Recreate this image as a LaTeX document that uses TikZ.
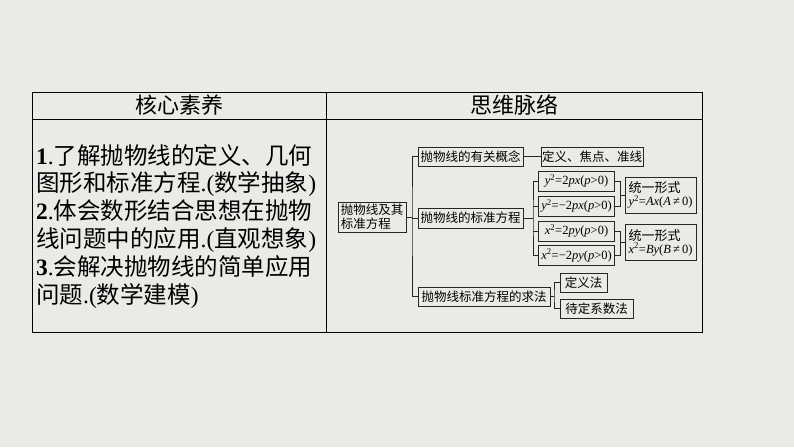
\documentclass[tikz,border=0pt]{standalone}
\usepackage{fontspec}
\setmainfont{Noto Sans CJK SC}
\newfontfamily\tnr{Liberation Serif}
\newcommand{\vi}[1]{\textit{#1}}
\newcommand{\sq}{\textsuperscript{2}}
\definecolor{bgc}{RGB}{234,234,231}
\begin{document}
\begin{tikzpicture}[x=1pt,y=-1pt,
  box/.style={draw=black!85,line width=0.9pt,inner sep=0pt,align=center,font=\fontsize{12.5}{14}\selectfont},
  eq/.style={font=\tnr\fontsize{12.5}{14}\selectfont},
  conn/.style={draw=black!85,line width=0.9pt},
  tbl/.style={draw=black,line width=0.8pt}]
\fill[bgc] (0,0) rectangle (794,447);
\useasboundingbox (0,0) rectangle (794,447);
% table
\draw[tbl] (32,92) rectangle (702,332);
\draw[tbl] (32,119) -- (702,119);
\draw[tbl] (326,92) -- (326,332);
\node[font=\fontsize{22}{24}\selectfont] (h1) at (179,105.5) {核心素养};
\node[font=\fontsize{22}{24}\selectfont] (h2) at (514,105.5) {思维脉络};
\node[anchor=north west,align=left,inner sep=0pt,font=\fontsize{23.5}{27.8}\selectfont] (txt) at (36,144) {%
{\tnr\bfseries 1}{\tnr.}了解抛物线的定义、几何\\
图形和标准方程{\tnr.(}数学抽象{\tnr)}\\
{\tnr\bfseries 2}{\tnr.}体会数形结合思想在抛物\\
线问题中的应用{\tnr.(}直观想象{\tnr)}\\
{\tnr\bfseries 3}{\tnr.}会解决抛物线的简单应用\\
问题{\tnr.(}数学建模{\tnr)}};
% tree
\node[box,minimum width=68pt,minimum height=30pt,align=left] (root) at (372,217) {抛物线及其\\标准方程};
\node[box,minimum width=105pt,minimum height=19pt] (A) at (470.5,156.5) {抛物线的有关概念};
\node[box,minimum width=105pt,minimum height=20pt] (B) at (470.5,218) {抛物线的标准方程};
\node[box,minimum width=132pt,minimum height=19pt] (C) at (484,296.5) {抛物线标准方程的求法};
\node[box,minimum width=102pt,minimum height=19pt] (D) at (592,156.5) {定义、焦点、准线};
\node[box,eq,minimum width=76pt,minimum height=20pt] (E1) at (576.5,181) {\vi{y}\sq=2\vi{px}(\vi{p}>0)};
\node[box,eq,minimum width=76pt,minimum height=20pt] (E2) at (576.5,206) {\vi{y}\sq=−2\vi{px}(\vi{p}>0)};
\node[box,eq,minimum width=76pt,minimum height=20pt] (E3) at (576.5,231) {\vi{x}\sq=2\vi{py}(\vi{p}>0)};
\node[box,eq,minimum width=76pt,minimum height=20pt] (E4) at (576.5,255.5) {\vi{x}\sq=−2\vi{py}(\vi{p}>0)};
\node[box,minimum width=71pt,minimum height=36pt,align=left,font=\fontsize{13}{14}\selectfont] (F1) at (660.5,195) {统一形式\\[-1pt]{\tnr\fontsize{12.5}{14}\selectfont\vi{y}\sq=\vi{Ax}(\vi{A}\,≠\,0)}};
\node[box,minimum width=71pt,minimum height=36pt,align=left,font=\fontsize{13}{14}\selectfont] (F2) at (660.5,242.5) {统一形式\\[-1pt]{\tnr\fontsize{12.5}{14}\selectfont\vi{x}\sq=\vi{By}(\vi{B}\,≠\,0)}};
\node[box,minimum width=47pt,minimum height=19pt] (G1) at (583.5,282.5) {定义法};
\node[box,minimum width=73pt,minimum height=19pt] (G2) at (596.5,308.5) {待定系数法};
% connectors
\coordinate (t) at (412,217);
\coordinate (bb) at (533,218);
\coordinate (f1) at (620,195);
\coordinate (f2) at (620,242.5);
\coordinate (cc) at (554,296.5);
\draw[conn] (root.east) -- (t);
\draw[conn] (A.west) -| (t) |- (C.west);
\draw[conn] (t |- B.west) -- (B.west);
\draw[conn] (A.east) -- (D.west);
\draw[conn] (B.east) -- (bb);
\draw[conn] (E1.west) -| (bb) |- (E4.west);
\draw[conn] (E2.west) -- (E2.west -| bb);
\draw[conn] (E3.west) -- (E3.west -| bb);
\draw[conn] (E1.east) -| (f1) |- (E2.east);
\draw[conn] (f1) -- (F1.west);
\draw[conn] (E3.east) -| (f2) |- (E4.east);
\draw[conn] (f2) -- (F2.west);
\draw[conn] (C.east) -- (cc);
\draw[conn] (G1.west) -| (cc) |- (G2.west);
\end{tikzpicture}
\end{document}
